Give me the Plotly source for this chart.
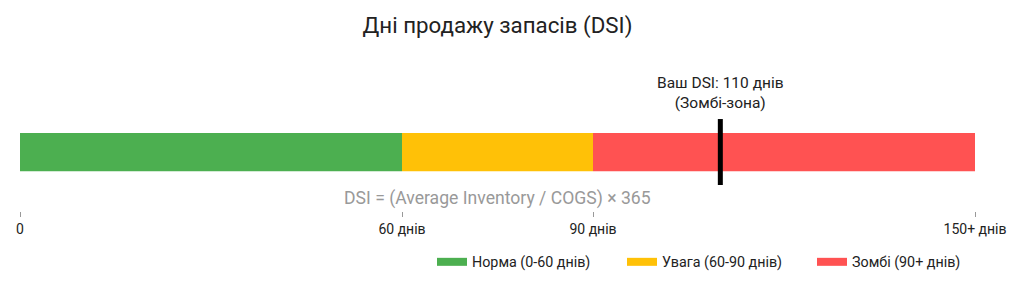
import plotly.graph_objects as go

zones = ["Норма (0-60 днів)", "Увага (60-90 днів)", "Зомбі (90+ днів)"]
zone_start = [0, 60, 90]
zone_end = [60, 90, 150]
zone_colors = ["#4CAF50", "#FFC107", "#FF5252"]

your_dsi = 110
tick_vals = [0, 60, 90, 150]
tick_text = ["0", "60 днів", "90 днів", "150+ днів"]

title = "Дні продажу запасів (DSI)"
marker_label = "Ваш DSI: 110 днів<br>(Зомбі-зона)"
formula = "DSI = (Average Inventory / COGS) × 365"

BAR_Y = 0.39
BAR_W = 0.252

fig = go.Figure()
for name, s, e, c in zip(zones, zone_start, zone_end, zone_colors):
    fig.add_trace(go.Bar(
        y=[BAR_Y], x=[e - s], base=[s], orientation="h", width=BAR_W,
        marker=dict(color=c, line=dict(width=0)), showlegend=False, hoverinfo="skip",
    ))
for name, c in zip(zones, zone_colors):
    fig.add_trace(go.Scatter(
        x=[None], y=[None], mode="lines", name=name,
        line=dict(color=c, width=8),
    ))

fig.add_trace(go.Scatter(
    x=[your_dsi, your_dsi], y=[0.172, 0.609], mode="lines",
    line=dict(color="black", width=5), showlegend=False, hoverinfo="skip",
))

fig.add_annotation(x=your_dsi, y=(211 - 114) / 151, xref="x", yref="y", text=marker_label,
                   showarrow=False, yanchor="bottom",
                   font=dict(size=15.5, color="#222222"))
fig.add_annotation(x=0.5, y=(211 - 198) / 151, xref="paper", yref="paper", text=formula,
                   showarrow=False, yanchor="middle",
                   font=dict(size=17.6, color="#999999"))

fig.update_layout(
    width=1024, height=307,
    margin=dict(l=20, r=49, t=60, b=96),
    paper_bgcolor="white", plot_bgcolor="white",
    font=dict(family="Roboto", color="#222222"),
    title=dict(text=title, x=0.5, xref="paper", xanchor="center", y=1 - 25 / 307, yanchor="middle",
               font=dict(size=22.3, color="#222222")),
    barmode="overlay",
    xaxis=dict(range=[0, 150], tickvals=tick_vals, ticktext=tick_text,
               showgrid=False, zeroline=False, showline=False,
               ticks="outside", ticklen=5, tickcolor="#999999", tickwidth=1,
               tickfont=dict(size=14, color="#222222")),
    yaxis=dict(range=[0, 1], visible=False, fixedrange=True),
    legend=dict(orientation="h", x=(432 - 20) / 955, xanchor="left", y=-0.338, yanchor="middle",
                font=dict(size=14.3, color="#222222"), itemwidth=30, entrywidth=145),
    showlegend=True,
)

fig.write_html("out.html")
